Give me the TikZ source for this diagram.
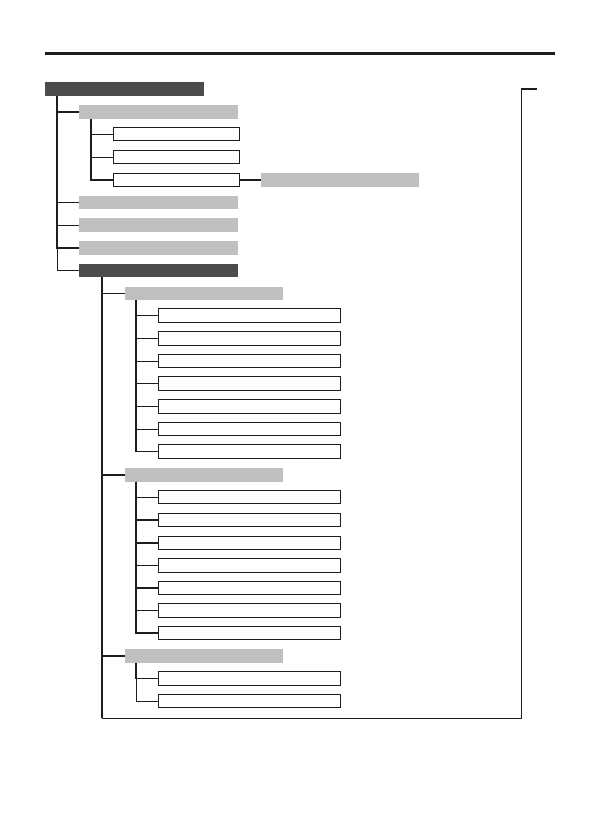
\documentclass[tikz,border=0pt]{standalone}
\definecolor{boxdark}{HTML}{4D4B4B}
\definecolor{boxgray}{HTML}{BFBFBF}
\definecolor{linegray}{HTML}{1E1E1E}

\begin{document}
\begin{tikzpicture}[x=1pt,y=-1pt,
  base/.style={inner sep=0pt,anchor=west,minimum height=13.5pt},
  darkbox/.style={base,fill=boxdark,minimum width=159pt},
  graybox/.style={base,fill=boxgray,minimum width=159pt},
  subbox/.style={base,fill=boxgray,minimum width=158pt},
  itembox/.style={base,draw=linegray,line width=0.8pt,fill=white,minimum width=126pt},
  leafbox/.style={base,draw=linegray,line width=0.8pt,fill=white,minimum width=182pt},
  lnk/.style={draw=linegray,line width=0.7pt},
  lnkb/.style={draw=linegray,line width=1.4pt}]
\useasboundingbox (0,0) rectangle (595,839);

% heading rule
\coordinate (rl) at (45,53.5);
\coordinate (rr) at (555,53.5);
\draw[linegray,line width=3pt] (rl) -- (rr);

% first level
\node[darkbox] (root) at (45,89)    {};
\node[graybox] (menuA) at (79,112)  {};
\node[graybox] (menuB) at (79,202.5) {};
\node[graybox] (menuC) at (79,225)  {};
\node[graybox] (menuD) at (79,248)  {};
\node[darkbox] (menuE) at (79,270.5) {};

% items under A
\node[itembox] (itemA1) at (113,134) {};
\node[itembox] (itemA2) at (113,157) {};
\node[itembox] (itemA3) at (113,180) {};
\node[subbox]  (itemA3x) at (261,180) {};

% groups under E
\node[subbox] (grpF) at (125,293.5) {};
\node[subbox] (grpG) at (125,475)   {};
\node[subbox] (grpH) at (125,656)   {};

\node[leafbox] (leafF1) at (158,315.5) {};
\node[leafbox] (leafF2) at (158,338.5) {};
\node[leafbox] (leafF3) at (158,361)   {};
\node[leafbox] (leafF4) at (158,383.5) {};
\node[leafbox] (leafF5) at (158,406.5) {};
\node[leafbox] (leafF6) at (158,429)   {};
\node[leafbox] (leafF7) at (158,451.5) {};

\node[leafbox] (leafG1) at (158,497)   {};
\node[leafbox] (leafG2) at (158,520)   {};
\node[leafbox] (leafG3) at (158,543)   {};
\node[leafbox] (leafG4) at (158,565.5) {};
\node[leafbox] (leafG5) at (158,588)   {};
\node[leafbox] (leafG6) at (158,610.5) {};
\node[leafbox] (leafG7) at (158,633)   {};

\node[leafbox] (leafH1) at (158,678.5) {};
\node[leafbox] (leafH2) at (158,701)   {};

% trunk heads
\coordinate (trRoot) at ([xshift=12pt]root.south west);
\coordinate (trA)    at ([xshift=12pt]menuA.south west);
\coordinate (trE)    at ([xshift=23pt]menuE.south west);
\coordinate (trF)    at ([xshift=11pt]grpF.south west);
\coordinate (trG)    at ([xshift=11pt]grpG.south west);
\coordinate (trH)    at ([xshift=11pt]grpH.south west);

% bracket round the E branch
\coordinate (brBL) at (trE |- 0,718);
\coordinate (brBR) at (521,718);
\coordinate (brTR) at (521,89);
\coordinate (brTE) at (537,89);
\draw[lnk] (brBL) -- (brBR) -- (brTR);
\draw[lnkb] (brTR) -- (brTE);

\path
(trRoot) edge[lnkb,to path={|- (\tikztotarget)}] (menuA.west)
(trRoot) edge[lnk, to path={|- (\tikztotarget)}] (menuB.west)
(trRoot) edge[lnk, to path={|- (\tikztotarget)}] (menuC.west)
(trRoot) edge[lnkb,to path={|- (\tikztotarget)}] (menuD.west)
(trRoot) edge[lnk, to path={|- (\tikztotarget)}] (menuE.west)
(trA)    edge[lnk, to path={|- (\tikztotarget)}] (itemA1.west)
(trA)    edge[lnk, to path={|- (\tikztotarget)}] (itemA2.west)
(trA)    edge[lnkb,to path={|- (\tikztotarget)}] (itemA3.west)
(itemA3) edge[lnkb]                              (itemA3x)
(trE)    edge[lnkb,to path={|- (\tikztotarget)}] (brBL)
(trE)    edge[lnk, to path={|- (\tikztotarget)}] (grpF.west)
(trE)    edge[lnkb,to path={|- (\tikztotarget)}] (grpG.west)
(trE)    edge[lnkb,to path={|- (\tikztotarget)}] (grpH.west)
(trF)    edge[lnkb,to path={|- (\tikztotarget)}] (leafF7.west)
(trF)    edge[lnkb,to path={|- (\tikztotarget)}] (leafF1.west)
(trF)    edge[lnk, to path={|- (\tikztotarget)}] (leafF2.west)
(trF)    edge[lnk, to path={|- (\tikztotarget)}] (leafF3.west)
(trF)    edge[lnkb,to path={|- (\tikztotarget)}] (leafF4.west)
(trF)    edge[lnk, to path={|- (\tikztotarget)}] (leafF5.west)
(trF)    edge[lnk, to path={|- (\tikztotarget)}] (leafF6.west)
(trG)    edge[lnkb,to path={|- (\tikztotarget)}] (leafG7.west)
(trG)    edge[lnk, to path={|- (\tikztotarget)}] (leafG1.west)
(trG)    edge[lnkb,to path={|- (\tikztotarget)}] (leafG2.west)
(trG)    edge[lnkb,to path={|- (\tikztotarget)}] (leafG3.west)
(trG)    edge[lnk, to path={|- (\tikztotarget)}] (leafG4.west)
(trG)    edge[lnkb,to path={|- (\tikztotarget)}] (leafG5.west)
(trG)    edge[lnkb,to path={|- (\tikztotarget)}] (leafG6.west)
(trH)    edge[lnk, to path={|- (\tikztotarget)}] (leafH2.west)
(trH)    edge[lnkb,to path={|- (\tikztotarget)}] (leafH1.west)
;
\end{tikzpicture}
\end{document}
